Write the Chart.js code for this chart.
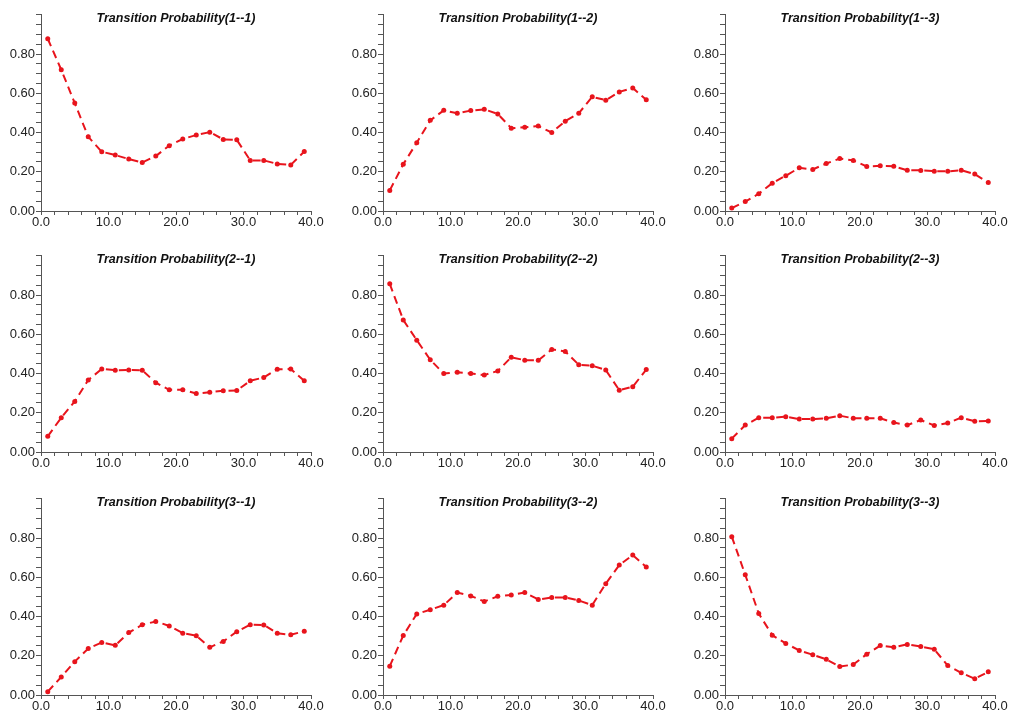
<!DOCTYPE html>
<html>
<head>
<meta charset="utf-8">
<script src="https://cdn.jsdelivr.net/npm/chart.js@4.4.1/dist/chart.umd.min.js"></script>
<style>
  html, body { margin: 0; padding: 0; background: #fff; }
  body { width: 1013px; height: 718px; position: relative; overflow: hidden; }
  .panel { position: absolute; }
</style>
</head>
<body>
<div id="grid"></div>
<script>
// ── data: time step on x, probability on y ──
const steps = [1, 3, 5, 7, 9, 11, 13, 15, 17, 19, 21, 23, 25, 27, 29, 31, 33, 35, 37, 39];

const p11 = [0.878, 0.72, 0.55, 0.378, 0.302, 0.285, 0.265, 0.247, 0.28, 0.333, 0.367, 0.387, 0.402, 0.365, 0.363, 0.258, 0.258, 0.24, 0.235, 0.303];
const p12 = [0.105, 0.238, 0.348, 0.462, 0.513, 0.498, 0.512, 0.518, 0.495, 0.422, 0.427, 0.433, 0.40, 0.458, 0.498, 0.582, 0.565, 0.607, 0.627, 0.567];
const p13 = [0.015, 0.048, 0.088, 0.142, 0.18, 0.22, 0.212, 0.242, 0.267, 0.258, 0.227, 0.23, 0.228, 0.208, 0.207, 0.203, 0.202, 0.208, 0.188, 0.145];
const p21 = [0.08, 0.175, 0.258, 0.367, 0.423, 0.417, 0.418, 0.417, 0.353, 0.317, 0.317, 0.298, 0.305, 0.312, 0.313, 0.363, 0.38, 0.422, 0.423, 0.363];
const p22 = [0.857, 0.673, 0.57, 0.47, 0.40, 0.407, 0.40, 0.392, 0.413, 0.483, 0.468, 0.467, 0.523, 0.512, 0.445, 0.44, 0.418, 0.315, 0.333, 0.42];
const p23 = [0.068, 0.137, 0.175, 0.175, 0.18, 0.168, 0.168, 0.172, 0.185, 0.172, 0.172, 0.172, 0.15, 0.137, 0.163, 0.135, 0.148, 0.175, 0.157, 0.158];
const p31 = [0.017, 0.092, 0.17, 0.237, 0.268, 0.253, 0.318, 0.358, 0.375, 0.352, 0.315, 0.302, 0.243, 0.273, 0.323, 0.358, 0.357, 0.315, 0.307, 0.325];
const p32 = [0.147, 0.303, 0.413, 0.435, 0.458, 0.522, 0.505, 0.477, 0.503, 0.51, 0.522, 0.487, 0.497, 0.497, 0.482, 0.458, 0.567, 0.662, 0.713, 0.652];
const p33 = [0.807, 0.613, 0.415, 0.305, 0.263, 0.227, 0.205, 0.182, 0.145, 0.155, 0.208, 0.252, 0.243, 0.258, 0.247, 0.233, 0.15, 0.113, 0.083, 0.118];

const titles = [
  "Transition Probability(1--1)", "Transition Probability(1--2)", "Transition Probability(1--3)",
  "Transition Probability(2--1)", "Transition Probability(2--2)", "Transition Probability(2--3)",
  "Transition Probability(3--1)", "Transition Probability(3--2)", "Transition Probability(3--3)"
];
const series = [p11, p12, p13, p21, p22, p23, p31, p32, p33];

// ── layout of the 3x3 grid (axis origin of each panel) ──
const colX = [41, 383, 725];
const rowTop = [12, 253, 496];
const PLOT_W = 270, PLOT_H = 199;
const AXIS_W = 41, PAD_TOP = 6, PAD_RIGHT = 20, AXIS_H = 24;

const RED = "#e8141c";
const FONT = "'Liberation Sans', Arial, Helvetica, sans-serif";

// title drawn inside the top of the plot, like the original
const panelTitle = {
  id: "panelTitle",
  afterDraw(chart, args, opts) {
    const { ctx, chartArea } = chart;
    ctx.save();
    ctx.font = "italic bold 12.5px " + FONT;
    ctx.fillStyle = "#111";
    ctx.textAlign = "center";
    ctx.textBaseline = "alphabetic";
    ctx.fillText(opts.text, (chartArea.left + chartArea.right) / 2, chartArea.top + 7.5);
    ctx.restore();
  }
};

function makePanel(i) {
  const r = Math.floor(i / 3), c = i % 3;
  const div = document.createElement("div");
  div.className = "panel";
  const w = AXIS_W + PLOT_W + PAD_RIGHT, h = PAD_TOP + PLOT_H + AXIS_H;
  div.style.left = (colX[c] - AXIS_W) + "px";
  div.style.top = (rowTop[r] - PAD_TOP) + "px";
  div.style.width = w + "px";
  div.style.height = h + "px";
  const cv = document.createElement("canvas");
  cv.width = w; cv.height = h;
  div.appendChild(cv);
  document.getElementById("grid").appendChild(div);

  new Chart(cv, {
    type: "line",
    data: {
      labels: steps,
      datasets: [{
        data: steps.map((x, k) => ({ x: x, y: series[i][k] })),
        borderColor: RED, backgroundColor: RED,
        borderWidth: 2, borderDash: [8, 5],
        pointRadius: 2.5, pointBorderWidth: 0, pointBackgroundColor: RED,
        tension: 0, fill: false
      }]
    },
    options: {
      responsive: false, animation: false, devicePixelRatio: 1,
      layout: { padding: { top: PAD_TOP, right: PAD_RIGHT, left: 0, bottom: 0 } },
      plugins: { legend: { display: false }, tooltip: { enabled: false }, panelTitle: { text: titles[i] } },
      scales: {
        x: {
          type: "linear", min: 0, max: 40,
          afterFit: s => { s.height = AXIS_H; },
          border: { display: true, color: "#555", width: 1 },
          grid: { drawOnChartArea: false, drawTicks: true, tickLength: 4, color: "#555" },
          ticks: {
            stepSize: 2, autoSkip: false, maxRotation: 0, padding: 0,
            color: "#222", font: { family: FONT, size: 13 },
            callback: v => (Math.round(v) % 10 === 0 ? v.toFixed(1) : "")
          }
        },
        y: {
          type: "linear", min: 0, max: 1.0,
          afterFit: s => { s.width = AXIS_W; },
          border: { display: true, color: "#555", width: 1 },
          grid: { drawOnChartArea: false, drawTicks: true, tickLength: 5, color: "#555" },
          ticks: {
            stepSize: 0.05, maxTicksLimit: 100, autoSkip: false, padding: 1,
            color: "#222", font: { family: FONT, size: 13 },
            callback: v => {
              const n = Math.round(v * 100);
              return (n % 20 === 0 && n < 100) ? (n / 100).toFixed(2) : "";
            }
          }
        }
      }
    },
    plugins: [panelTitle]
  });
}

for (let i = 0; i < 9; i++) makePanel(i);
</script>
</body>
</html>
